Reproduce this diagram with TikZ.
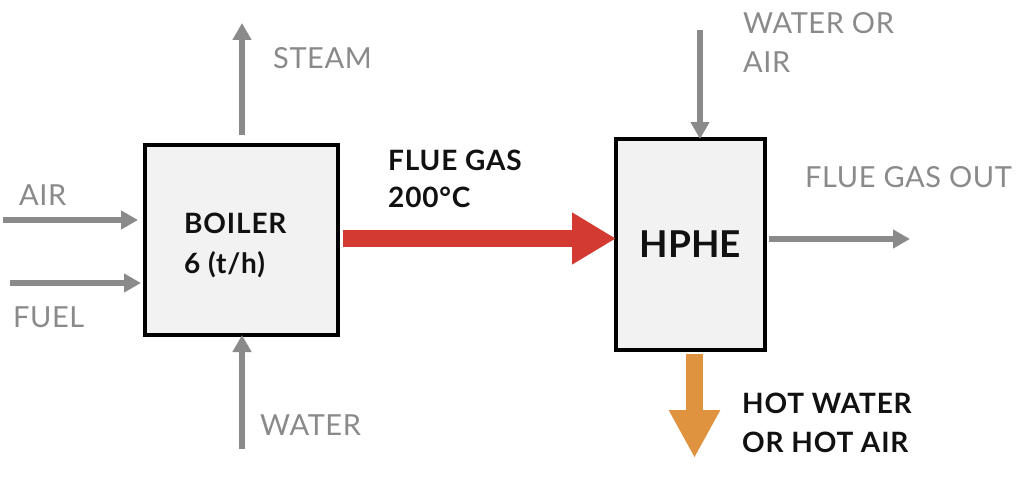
\documentclass[tikz,border=0pt]{standalone}
\usepackage{fontspec}
\setmainfont{Lato}
\newfontfamily\grayfont[LetterSpace=2]{Lato}
\newfontfamily\boldfont[LetterSpace=3]{Lato Bold}
\usetikzlibrary{arrows.meta}
\definecolor{flowgray}{HTML}{8A8A8A}
\definecolor{boxfill}{HTML}{F1F2F1}
\definecolor{fluered}{HTML}{D33A32}
\definecolor{hotorange}{HTML}{E0933F}
\definecolor{ink}{HTML}{111111}
\tikzset{
  unitbox/.style={draw=black, line width=4pt, fill=boxfill, inner sep=0pt},
  thinflow/.style={draw=flowgray, line width=6pt, -{Triangle[width=18pt,length=17pt]}},
  graylabel/.style={text=flowgray, inner sep=0pt, align=left, font=\grayfont\fontsize{29}{39}\selectfont},
  blacklabel/.style={text=ink, inner sep=0pt, align=left, font=\boldfont\fontsize{28}{39}\selectfont},
}
\begin{document}
\begin{tikzpicture}[x=1pt,y=1pt]
\useasboundingbox[fill=white] (0,0) rectangle (1024,-476);
% boxes
\node[unitbox, minimum width=193pt, minimum height=190pt] (boiler) at (241.5,-240) {};
\node[unitbox, minimum width=149pt, minimum height=211pt] (hphe) at (690.5,-244.5) {};
% box texts
\node[blacklabel, anchor=north west, font=\boldfont\fontsize{28}{40}\selectfont] (boilertext) at (184,-213) {BOILER\\6 (t/h)};
\node[text=ink, inner sep=0pt, font=\bfseries\fontsize{37}{40}\selectfont] (hphetext) at (hphe.center) {HPHE};
% coordinates
\coordinate (steamtip) at (242,-23);
\coordinate (airstart) at (3,-220);
\coordinate (airtip) at (138,-220);
\coordinate (fuelstart) at (10,-283);
\coordinate (fueltip) at (141,-283);
\coordinate (waterstart) at (242,-449);
\coordinate (woastart) at (700,-30);
\coordinate (fluetip) at (910,-239);
\coordinate (hottip) at (694.5,-458);
% gray flows
\draw[thinflow] (242,-135) -- (steamtip);
\draw[thinflow] (airstart) -- (airtip);
\draw[thinflow] (fuelstart) -- (fueltip);
\draw[thinflow, shorten >=-2pt] (waterstart) -- (boiler.south -| waterstart);
\draw[thinflow, shorten >=-2pt] (woastart) -- (hphe.north -| woastart);
\draw[thinflow] (hphe.east |- fluetip) ++(2,0) -- (fluetip);
% flue gas
\draw[fluered, line width=17pt, -{Triangle[width=49pt,length=44pt]}, shorten >=-2pt] (boiler.east |- 0,-238.5) ++(3,0) -- (hphe.west |- 0,-238.5);
% hot water
\draw[hotorange, line width=17pt, -{Triangle[width=48pt,length=48pt]}] (hphe.south -| hottip) ++(0,-2) -- (hottip);
% labels
\node[graylabel, anchor=north west] (steamlbl) at (273,-47) {STEAM};
\node[graylabel, anchor=north west] (airlbl) at (19,-185) {AIR};
\node[graylabel, anchor=north west] (fuellbl) at (13,-307) {FUEL};
\node[graylabel, anchor=north west] (waterlbl) at (260,-415) {WATER};
\node[graylabel, anchor=north west] (woalbl) at (743,-12) {WATER OR\\AIR};
\node[graylabel, anchor=north west] (fluelbl) at (805,-166) {FLUE GAS OUT};
\node[blacklabel, anchor=north west, font=\boldfont\fontsize{28}{37}\selectfont] (fluegaslbl) at (388,-150) {FLUE GAS\\200°C};
\node[blacklabel, anchor=north west] (hotlbl) at (742,-393) {HOT WATER\\OR HOT AIR};
\end{tikzpicture}
\end{document}
